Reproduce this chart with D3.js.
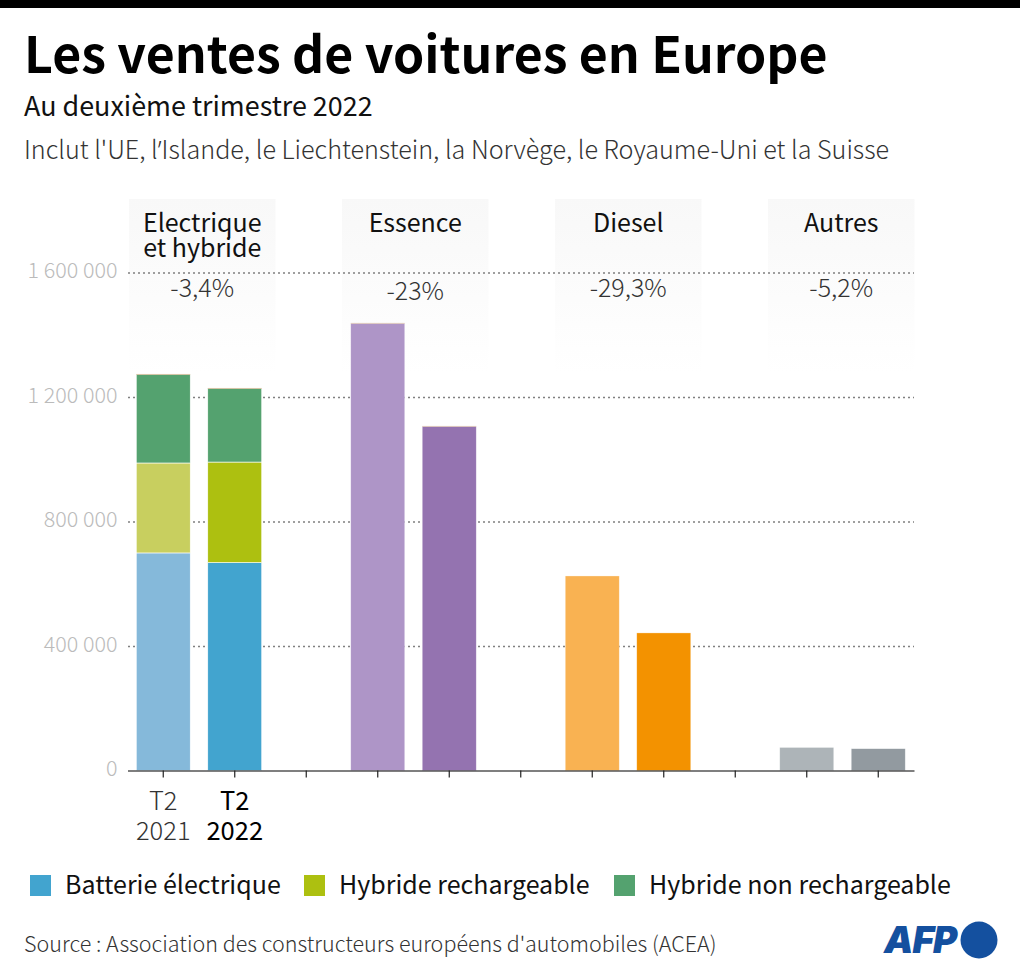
<!DOCTYPE html>
<html>
<head>
<meta charset="utf-8">
<script src="https://cdn.jsdelivr.net/npm/d3@7"></script>
<style>
  html, body { margin: 0; padding: 0; background: #fff; }
  text { font-family: "Noto Sans CJK SC", "Noto Sans", sans-serif; }
</style>
</head>
<body>
<div id="chart"></div>
<script>
// Data
const slots = ["a0", "a1", "a2", "b0", "b1", "b2", "c0", "c1", "c2", "d0", "d1"];
const yTicks = [0, 400000, 800000, 1200000, 1600000];

const groupNames = [["Electrique", "et hybride"], ["Essence"], ["Diesel"], ["Autres"]];
const groupChanges = ["-3,4%", "-23%", "-29,3%", "-5,2%"];

const stackedSlots = ["a0", "a1"];
const batteryValues = [699000, 668000];
const plugInValues = [289000, 323000];
const hybridValues = [284000, 236000];
const otherElecValues = [2000, 2000];

const plainSlots = ["b0", "b1", "c0", "c1", "d0", "d1"];
const plainValues = [1436000, 1105000, 625000, 442000, 74000, 70000];
const plainTopValues = [2000, 2000, 0, 0, 0, 0];
const plainColors = ["#ae95c7", "#9473b0", "#f9b252", "#f39200", "#adb4b8", "#929aa0"];

const legendLabels = ["Batterie électrique", "Hybride rechargeable", "Hybride non rechargeable"];
const legendColors = ["#42a4cf", "#adc010", "#54a26f"];

const width = 1020, height = 976;
const svg = d3.select("#chart").append("svg")
  .attr("width", width)
  .attr("height", height)
  .style("display", "block");

const defs = svg.append("defs");
const grad = defs.append("linearGradient")
  .attr("id", "panel")
  .attr("x1", 0).attr("x2", 0).attr("y1", 0).attr("y2", 1);
grad.append("stop").attr("offset", "0%").attr("stop-color", "#f8f8f8");
grad.append("stop").attr("offset", "100%").attr("stop-color", "#ffffff");

// Black band on top
svg.append("rect").attr("width", width).attr("height", 8).attr("fill", "#000");

// Heading
svg.append("text").attr("x", 24).attr("y", 73)
  .attr("font-size", 50).attr("font-weight", 700).attr("fill", "#000")
  .text("Les ventes de voitures en Europe");
svg.append("text").attr("x", 24).attr("y", 116)
  .attr("font-size", 26.9).attr("fill", "#111")
  .text("Au deuxième trimestre 2022");
const note = svg.append("text").attr("x", 24).attr("y", 159)
  .attr("font-size", 25.15).attr("font-weight", 300).attr("fill", "#333");
note.append("tspan").text("Inclut l'UE, l");
// the CJK font draws this apostrophe full width
note.append("tspan").style("font-family", '"Noto Sans", sans-serif').text("’");
note.append("tspan").text("Islande, le Liechtenstein, la Norvège, le Royaume-Uni et la Suisse");

// Scales
const x = d3.scaleBand().domain(slots).range([127.5, 914]).paddingInner(0.245).paddingOuter(0.1225);
const y = d3.scaleLinear().domain([0, 1600000]).range([770.5, 272.5]);

// Header panels behind the grid
const panelLeft = i => 129 + i * 213;
const panelWidth = 146.5;
const panelG = svg.append("g");
groupNames.forEach((name, i) => {
  panelG.append("rect")
    .attr("x", panelLeft(i)).attr("y", 199)
    .attr("width", panelWidth).attr("height", 175)
    .attr("fill", "url(#panel)");
});

// Y axis + dotted grid
const fmt = d => d3.format(",")(d).replace(/,/g, "\u00a0");
const yAxis = svg.append("g")
  .attr("transform", "translate(128,0)")
  .call(d3.axisLeft(y).tickValues(yTicks).tickFormat(fmt).tickSize(0).tickPadding(10.5));
yAxis.select(".domain").remove();
yAxis.selectAll("text").attr("font-size", 21.5).attr("font-weight", 300).attr("fill", "#bbbbbb")
  .attr("dy", "0.25em")
  .style("font-family", '"Noto Sans CJK SC", "Noto Sans", sans-serif');
yAxis.selectAll(".tick").filter(d => d > 0).append("line")
  .attr("x1", 0).attr("x2", 786)
  .attr("stroke", "#808080").attr("stroke-width", 1.3).attr("stroke-dasharray", "2,3");

// Group titles and change labels
const titleG = svg.append("g").attr("text-anchor", "middle");
groupNames.forEach((name, i) => {
  const cx = panelLeft(i) + panelWidth / 2;
  name.forEach((line, j) => {
    titleG.append("text").attr("x", cx).attr("y", 232 + j * 25)
      .attr("font-size", 25).attr("fill", "#111").text(line);
  });
  titleG.append("text").attr("x", cx).attr("y", i === 1 ? 300 : 297)
    .attr("font-size", 25).attr("font-weight", 300).attr("fill", "#333")
    .text(groupChanges[i]);
});

// Stacked bars for electric and hybrid
const stackRows = stackedSlots.map((slot, i) => ({
  slot, battery: batteryValues[i], plugIn: plugInValues[i], hybrid: hybridValues[i], other: otherElecValues[i]
}));
const stackKeys = ["battery", "plugIn", "hybrid", "other"];
const stackColors = {
  a0: { battery: "#85b9da", plugIn: "#c8cf5f", hybrid: "#54a26f", other: "#c9a87a" },
  a1: { battery: "#42a4cf", plugIn: "#adc010", hybrid: "#54a26f", other: "#c9a87a" }
};
svg.append("g").selectAll("g")
  .data(d3.stack().keys(stackKeys)(stackRows))
  .join("g")
  .selectAll("rect")
  .data(s => s.map(d => ({ key: s.key, slot: d.data.slot, y0: d[0], y1: d[1] })))
  .join("rect")
  .attr("x", d => x(d.slot))
  .attr("width", x.bandwidth())
  .attr("y", d => y(d.y1))
  .attr("height", d => y(d.y0) - y(d.y1))
  .attr("fill", d => stackColors[d.slot][d.key])
  .attr("stroke", d => d.key === "other" ? "none" : "#fff")
  .attr("stroke-width", d => d.key === "other" ? 0 : 0.6);

// Plain bars
const plainRows = plainSlots.map((slot, i) => ({ slot, value: plainValues[i], top: plainTopValues[i], color: plainColors[i] }));
svg.append("g").selectAll("rect")
  .data(plainRows)
  .join("rect")
  .attr("x", d => x(d.slot))
  .attr("width", x.bandwidth())
  .attr("y", d => y(d.value))
  .attr("height", d => y(0) - y(d.value))
  .attr("fill", d => d.color)
  .attr("stroke", "#fff")
  .attr("stroke-opacity", 0.5)
  .attr("stroke-width", 0.6);
svg.append("g").selectAll("rect")
  .data(plainRows.filter(d => d.top > 0))
  .join("rect")
  .attr("x", d => x(d.slot))
  .attr("width", x.bandwidth())
  .attr("y", d => y(d.value + d.top))
  .attr("height", d => y(d.value) - y(d.value + d.top))
  .attr("fill", "#d9b9a0");

// X axis
const xAxis = svg.append("g")
  .attr("transform", `translate(0,${y(0)})`)
  .call(d3.axisBottom(x).tickFormat("").tickSizeOuter(0).tickSizeInner(7));
xAxis.select(".domain").attr("stroke", "#000").attr("stroke-width", 1.2);
xAxis.selectAll("line").attr("stroke", "#222").attr("stroke-width", 1.2);

// Period labels under the first two bars
const periodLabels = [["T2", "2021"], ["T2", "2022"]];
periodLabels.forEach((lines, i) => {
  const cx = x(stackedSlots[i]) + x.bandwidth() / 2;
  lines.forEach((line, j) => {
    svg.append("text").attr("x", cx).attr("y", 810 + j * 30)
      .attr("text-anchor", "middle").attr("font-size", 25.5)
      .attr("font-weight", i === 0 ? 300 : 400)
      .attr("fill", i === 0 ? "#333" : "#000")
      .text(line);
  });
});

// Legend
const legendX = [30, 304, 614];
legendLabels.forEach((label, i) => {
  svg.append("rect").attr("x", legendX[i]).attr("y", 875)
    .attr("width", 21).attr("height", 21).attr("fill", legendColors[i]);
  svg.append("text").attr("x", legendX[i] + 35).attr("y", 894)
    .attr("font-size", 25).attr("fill", "#111").text(label);
});

// Source
svg.append("text").attr("x", 24).attr("y", 952)
  .attr("font-size", 21.5).attr("font-weight", 300).attr("fill", "#333")
  .text("Source : Association des constructeurs européens d'automobiles (ACEA)");

// AFP logo
svg.append("text").attr("x", 884).attr("y", 953)
  .style("font-family", "Inter, sans-serif")
  .attr("font-size", 37).attr("font-weight", 900).attr("font-style", "italic")
  .attr("fill", "#14509f").attr("letter-spacing", -1).text("AFP");
svg.append("circle").attr("cx", 979).attr("cy", 940).attr("r", 18.5).attr("fill", "#14509f");
</script>
</body>
</html>
